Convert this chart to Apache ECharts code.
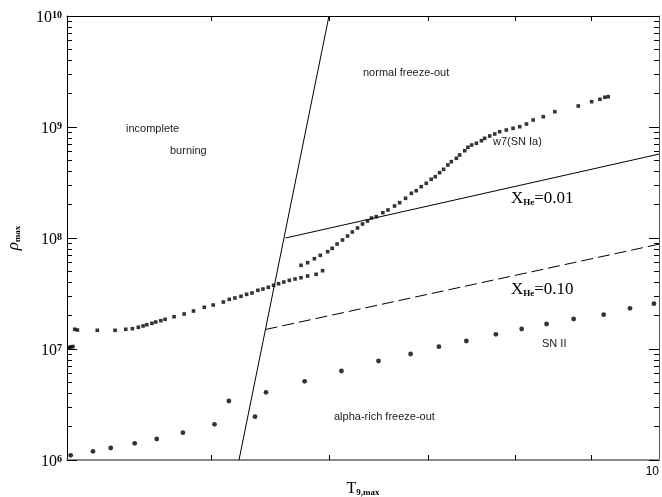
<!DOCTYPE html>
<html><head><meta charset="utf-8">
<script src="https://cdn.jsdelivr.net/npm/echarts@6/dist/echarts.min.js"></script>
<style>html,body{margin:0;padding:0;background:#fff}#c{width:662px;height:497px}</style>
</head><body><div id="c"></div>
<script>
// W7 (SN Ia) trajectory: peak temperature (T9) and peak density (g/cm^3)
const w7T = [3.999,4.012,4.024,4.037,4.048,4.065,4.192,4.309,4.381,4.426,4.467,4.500,4.526,4.562,4.589,4.625,4.656,4.721,4.795,4.865,4.947,5.016,5.095,5.142,5.187,5.236,5.282,5.326,5.375,5.417,5.462,5.507,5.550,5.595,5.643,5.693,5.746,5.805,5.882,5.941,
  5.746,5.805,5.866,5.920,5.988,6.030,6.076,6.127,6.175,6.221,6.271,6.320,6.369,6.408,6.456,6.522,6.574,6.641,6.694,6.755,6.816,6.868,6.921,6.975,7.029,7.073,7.120,7.165,7.212,7.251,7.308,7.345,7.403,7.440,7.483,7.538,7.597,7.635,7.695,7.755,7.814,7.895,7.978,8.061,8.145,8.230,8.360,8.511,8.825,9.010,9.126,9.196,9.244];
const w7Rho = [1.021e7,1.032e7,1.042e7,1.053e7,1.505e7,1.483e7,1.474e7,1.474e7,1.505e7,1.524e7,1.569e7,1.612e7,1.656e7,1.704e7,1.751e7,1.799e7,1.852e7,1.954e7,2.067e7,2.199e7,2.375e7,2.491e7,2.651e7,2.803e7,2.880e7,2.984e7,3.110e7,3.195e7,3.379e7,3.471e7,3.597e7,3.749e7,3.875e7,4.013e7,4.157e7,4.271e7,4.387e7,4.546e7,4.710e7,5.074e7,
  5.676e7,5.991e7,6.510e7,6.985e7,7.526e7,8.075e7,8.830e7,9.594e7,1.042e8,1.133e8,1.231e8,1.337e8,1.423e8,1.514e8,1.556e8,1.690e8,1.788e8,1.943e8,2.080e8,2.279e8,2.527e8,2.668e8,2.899e8,3.110e8,3.379e8,3.567e8,3.876e8,4.157e8,4.546e8,4.868e8,5.224e8,5.594e8,6.116e8,6.563e8,6.883e8,7.132e8,7.526e8,7.911e8,8.297e8,8.650e8,9.072e8,9.397e8,9.734e8,1.006e9,1.064e9,1.157e9,1.238e9,1.373e9,1.546e9,1.690e9,1.777e9,1.852e9,1.875e9];
// SN II trajectory
const sn2T = [4.023,4.164,4.280,4.442,4.596,4.786,5.026,5.139,5.351,5.443,5.778,6.117,6.478,6.808,7.113,7.422,7.769,8.085,8.403,8.762,9.179,9.561,9.922];
const sn2Rho = [1.102e6,1.198e6,1.283e6,1.414e6,1.546e6,1.762e6,2.097e6,3.400e6,2.455e6,4.073e6,5.117e6,6.336e6,7.796e6,9.016e6,1.049e7,1.181e7,1.356e7,1.514e7,1.680e7,1.864e7,2.037e7,2.327e7,2.559e7];
// boundary lines
const burnT = [5.22, 6.0];
const burnRho = [1e6, 1e10];
const he001T = [5.61, 10];
const he001Rho = [1e8, 5.7e8];
const he010T = [5.44, 10];
const he010Rho = [1.5e7, 8.8e7];
// axes
const xMin = 4, xMax = 10;
const yMin = 1e6, yMax = 1e10;
const xTickValues = [5, 6, 7, 8, 9];
const xLabelValues = [10];
const yMajorValues = [1e6, 1e7, 1e8, 1e9, 1e10];
const yMinorValues = [2e6,3e6,4e6,5e6,6e6,7e6,8e6,9e6,2e7,3e7,4e7,5e7,6e7,7e7,8e7,9e7,2e8,3e8,4e8,5e8,6e8,7e8,8e8,9e8,2e9,3e9,4e9,5e9,6e9,7e9,8e9,9e9];

const L = Math.log10;
const zip = (a, b) => a.map((v, i) => [v, b[i]]);
const serif = 'Liberation Serif';
const sans = 'Liberation Sans';

function tickAxisX(pos, ticks, labels, showLine) {
  return {
    type: 'value', position: pos, min: L(xMin), max: L(xMax),
    axisLine: { show: showLine, onZero: false, lineStyle: { color: '#000', width: 1 } },
    axisTick: { show: true, inside: true, length: 5, customValues: ticks.map(L), lineStyle: { color: '#000' } },
    axisLabel: labels ? { show: true, customValues: labels.map(L), formatter: v => String(Math.round(Math.pow(10, v))),
      color: '#000', fontFamily: sans, fontSize: 12, margin: 6, align: 'right' } : { show: false },
    splitLine: { show: false }
  };
}
function tickAxisY(pos, ticks, len, labels, showLine, lineColor) {
  return {
    type: 'value', position: pos, min: L(yMin), max: L(yMax),
    axisLine: { show: showLine, onZero: false, lineStyle: { color: lineColor || '#000', width: 1 } },
    axisTick: { show: true, inside: true, length: len, customValues: ticks.map(L), lineStyle: { color: '#000' } },
    axisLabel: labels ? { show: true, customValues: labels.map(L), margin: 5,
      formatter: v => '{b|10}{s|' + Math.round(v) + '}', padding: [4, 0, 0, 0],
      rich: {
        b: { fontFamily: serif, fontSize: 16, lineHeight: 16, color: '#000' },
        s: { fontFamily: serif, fontSize: 10, fontWeight: 'bold', lineHeight: 10, verticalAlign: 'top', color: '#000' }
      } } : { show: false },
    splitLine: { show: false }
  };
}

const chart = echarts.init(document.getElementById('c'));
const option = {
  animation: false,
  backgroundColor: '#fff',
  grid: { left: 67, right: 3, top: 16, bottom: 37, containLabel: false, outerBoundsMode: 'none' },
  xAxis: [
    { type: 'log', logBase: 10, min: xMin, max: xMax, position: 'bottom',
      axisLine: { show: true, onZero: false, lineStyle: { color: '#888', width: 2 } },
      axisTick: { show: false }, axisLabel: { show: false }, splitLine: { show: false },
      name: '{t|T}{s|9,max}', nameLocation: 'middle', nameGap: 21,
      nameTextStyle: { rich: {
        t: { fontFamily: serif, fontSize: 16, color: '#000' },
        s: { fontFamily: serif, fontSize: 9, fontWeight: 'bold', verticalAlign: 'bottom', color: '#000' } } } },
    tickAxisX('bottom', xTickValues, xLabelValues, false),
    tickAxisX('top', xTickValues, null, true)
  ],
  yAxis: [
    { type: 'log', logBase: 10, min: yMin, max: yMax, position: 'left',
      axisLine: { show: true, onZero: false, lineStyle: { color: '#000', width: 1 } },
      axisTick: { show: false }, axisLabel: { show: false }, splitLine: { show: false },
      name: '{r|ρ}{s|max}', nameLocation: 'middle', nameGap: 45, nameRotate: 90,
      nameTextStyle: { rich: {
        r: { fontFamily: serif, fontStyle: 'italic', fontSize: 17, color: '#000' },
        s: { fontFamily: serif, fontSize: 9, fontWeight: 'bold', verticalAlign: 'bottom', color: '#000' } } } },
    tickAxisY('left', yMajorValues, 10, yMajorValues, false),
    tickAxisY('left', yMinorValues, 5, null, false),
    tickAxisY('right', yMajorValues, 10, null, true, '#555'),
    tickAxisY('right', yMinorValues, 5, null, false)
  ],
  series: [
    { type: 'line', data: zip(burnT, burnRho), symbol: 'none', lineStyle: { color: '#000', width: 1 }, silent: true },
    { type: 'line', data: zip(he001T, he001Rho), symbol: 'none', lineStyle: { color: '#000', width: 1 }, silent: true },
    { type: 'line', data: zip(he010T, he010Rho), symbol: 'none', lineStyle: { color: '#000', width: 1, type: [12, 5] }, silent: true },
    { type: 'scatter', data: zip(w7T, w7Rho), symbol: 'rect', symbolSize: 3.6, itemStyle: { color: '#000' }, silent: true },
    { type: 'scatter', data: zip(sn2T, sn2Rho), symbol: 'circle', symbolSize: 4.8, itemStyle: { color: '#000' }, silent: true }
  ],
  graphic: [
    { type: 'text', x: 363, y: 73, style: { text: 'normal freeze-out', font: '11px ' + sans, fill: '#222', verticalAlign: 'middle' } },
    { type: 'text', x: 126, y: 129, style: { text: 'incomplete', font: '11px ' + sans, fill: '#222', verticalAlign: 'middle' } },
    { type: 'text', x: 170, y: 151, style: { text: 'burning', font: '11px ' + sans, fill: '#222', verticalAlign: 'middle' } },
    { type: 'text', x: 493, y: 142, style: { text: 'w7(SN Ia)', font: '11px ' + sans, fill: '#222', verticalAlign: 'middle' } },
    { type: 'text', x: 542, y: 344, style: { text: 'SN II', font: '11px ' + sans, fill: '#222', verticalAlign: 'middle' } },
    { type: 'text', x: 334, y: 417, style: { text: 'alpha-rich freeze-out', font: '11px ' + sans, fill: '#222', verticalAlign: 'middle' } },
    { type: 'text', x: 511, y: 199, style: { text: '{x|X}{h|He}{x|=0.01}', verticalAlign: 'middle',
      rich: { x: { fontFamily: serif, fontSize: 17, lineHeight: 17, fill: '#000' }, h: { fontFamily: serif, fontSize: 9, fontWeight: 'bold', lineHeight: 9, verticalAlign: 'bottom', fill: '#000' } } } },
    { type: 'text', x: 511, y: 290, style: { text: '{x|X}{h|He}{x|=0.10}', verticalAlign: 'middle',
      rich: { x: { fontFamily: serif, fontSize: 17, lineHeight: 17, fill: '#000' }, h: { fontFamily: serif, fontSize: 9, fontWeight: 'bold', lineHeight: 9, verticalAlign: 'bottom', fill: '#000' } } } }
  ]
};
chart.setOption(option);
</script></body></html>
